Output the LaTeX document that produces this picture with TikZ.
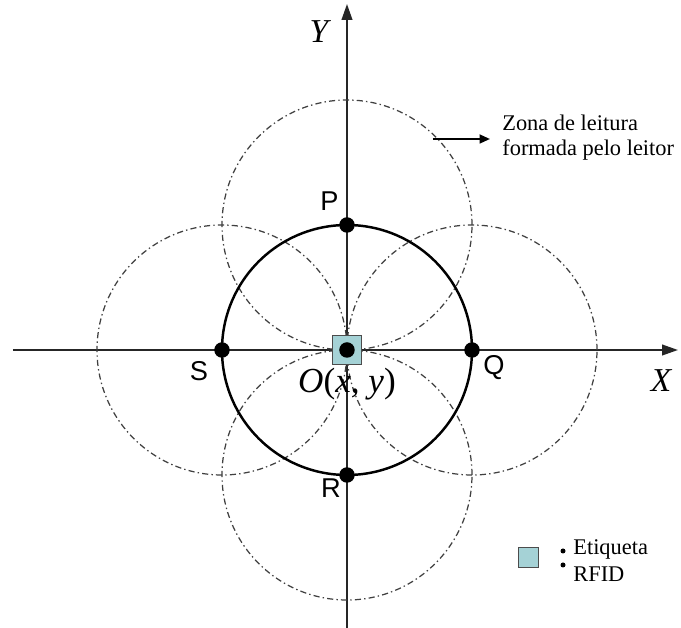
\documentclass[tikz,border=0pt]{standalone}
\usepackage{fontspec}
\setmainfont{Liberation Serif}
\newfontfamily\rotulo{Liberation Sans}
\usetikzlibrary{arrows.meta}
\definecolor{azulrfid}{RGB}{165,210,214}

\begin{document}
\begin{tikzpicture}[
            eixo/.style  ={-{Triangle[length=9pt,width=6pt]}, line width=1.1pt, black!85},
            seta/.style  ={-{Triangle[length=6pt,width=5pt]}, line width=1.3pt},
            zona/.style  ={dash pattern=on 3.5pt off 1.8pt on 0.8pt off 1.8pt, black!75, line width=0.7pt},
            leitor/.style={line width=1.4pt},
            ponto/.style ={circle, fill=black, inner sep=0pt, minimum size=0.31cm},
            tag/.style   ={draw=black!70, fill=azulrfid, inner sep=0pt, minimum size=#1},
            letra/.style ={font=\rotulo\fontsize{15.5}{18}\selectfont, inner sep=0pt},
            eixolbl/.style={font=\fontsize{19}{22}\selectfont\itshape, inner sep=0pt}
        ]
            \useasboundingbox (-6.94,-5.56) rectangle (6.68,7.0);
            \fill[white] (-6.94,-5.56) rectangle (6.68,7.0);

            %-----------------  Eixos X e Y  --------------------
            \coordinate (xini) at (-6.68,0);
            \coordinate (xfim) at (6.62,0);
            \coordinate (yini) at (0,-5.56);
            \coordinate (yfim) at (0,6.92);
            \draw[eixo] (xini) -- (xfim);
            \draw[eixo] (yini) -- (yfim);
            \node[eixolbl] (lx) at (6.28,-0.62) {X};
            \node[eixolbl] (ly) at (-0.56,6.36) {Y};

            %-----------------  Circunferencia e zonas de leitura  --------------------
            \def\r{2.5}                         % raio
            \coordinate (O) at (0,0);           % etiqueta
            \coordinate (P) at (90:\r);
            \coordinate (Q) at (0:\r);
            \coordinate (R) at (270:\r);
            \coordinate (S) at (180:\r);
            \foreach \p in {P,Q,R,S}
                \draw[zona] (\p) circle (\r);   % zona de cada leitor
            \draw[leitor] (O) circle (\r);

            % Etiqueta no centro e pontos
            \node[tag=0.58cm] (tagO) at (O) {};
            \node[ponto] (pO) at (O) {};
            \foreach \p in {P,Q,R,S}
                \node[ponto] (p\p) at (\p) {};

            % Rotulos
            \node[letra] (lP) at (-0.35,2.98) {P};
            \node[letra] (lQ) at (2.94,-0.36) {Q};
            \node[letra] (lR) at (-0.32,-2.76) {R};
            \node[letra] (lS) at (-2.96,-0.42) {S};
            \node[font=\fontsize{20}{24}\selectfont, inner sep=0pt, anchor=base] (lO) at (0,-0.86)
                {\textit{O}(\textit{x}, \textit{y})};

            %------------------  Legenda da zona ---------------
            \node[align=left, anchor=north west, inner sep=0pt, font=\fontsize{12.75}{14.2}\selectfont]
                (zonatxt) at (3.10,4.71) {Zona de leitura\\formada pelo leitor};
            \coordinate (setaini) at (1.72,4.22);
            \draw[seta, shorten >=6.8pt] (setaini) -- (setaini -| zonatxt.west);

            %------------------  Legenda da etiqueta ---------------
            \node[tag=0.4cm] (tagleg) at (3.62,-4.14) {};
            \fill (4.32,-4.02) circle (0.05) (4.32,-4.30) circle (0.05);
            \node[align=left, anchor=north west, inner sep=0pt, font=\fontsize{12.75}{15.3}\selectfont]
                (tagtxt) at (4.52,-3.79) {Etiqueta\\RFID};
        \end{tikzpicture}
\end{document}
